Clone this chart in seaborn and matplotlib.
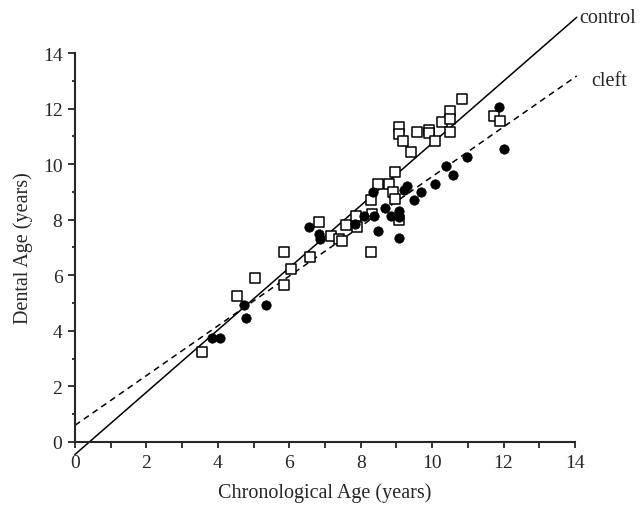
import numpy as np
import pandas as pd
import seaborn as sns
import matplotlib.pyplot as plt
from matplotlib.ticker import MultipleLocator

# control group (open squares)
control_age = [3.55, 4.55, 5.04, 5.85, 5.85, 6.05, 6.57, 6.82, 7.17, 7.40,
               7.47, 7.59, 7.87, 7.89, 8.28, 8.28, 8.33, 8.48, 8.78, 8.96,
               8.90, 8.96, 9.08, 9.08, 9.08, 9.18, 9.40, 9.59, 9.90, 9.90,
               10.08, 10.28, 10.49, 10.49, 10.49, 10.83, 11.72, 11.90]
control_dental = [3.24, 5.24, 5.90, 6.82, 5.65, 6.22, 6.64, 7.91, 7.40, 7.30,
                  7.24, 7.82, 8.12, 7.72, 6.82, 8.72, 8.21, 9.30, 9.30, 9.72,
                  9.00, 8.74, 8.00, 11.34, 11.10, 10.83, 10.42, 11.14, 11.23, 11.12,
                  10.83, 11.53, 11.92, 11.62, 11.14, 12.34, 11.75, 11.56]

# cleft group (filled circles)
cleft_age = [3.85, 4.05, 4.73, 4.79, 5.35, 6.56, 6.82, 6.86, 7.84, 8.08,
             8.34, 8.38, 8.48, 8.68, 8.85, 9.08, 9.08, 9.06, 9.20, 9.29,
             9.48, 9.68, 10.08, 10.39, 10.58, 10.99, 11.88, 12.00]
cleft_dental = [3.73, 3.73, 4.93, 4.45, 4.93, 7.72, 7.50, 7.30, 7.84, 8.12,
                9.00, 8.15, 7.60, 8.42, 8.13, 8.33, 8.09, 7.33, 9.07, 9.23,
                8.72, 9.00, 9.30, 9.92, 9.60, 10.24, 12.04, 10.54]

# regression lines: intercept, slope
control_fit = (-0.45, 1.12)
cleft_fit = (0.60, 0.895)
fit_x = [0, 14.05]

sns.set_style("ticks")
plt.rcParams['font.family'] = ['Liberation Serif', 'DejaVu Serif']

fig = plt.figure(figsize=(6.43, 5.10), dpi=100)
ax = fig.add_axes([0.1166, 0.1314, 0.7776, 0.7627])

sns.scatterplot(x=control_age, y=control_dental, marker="s", s=42,
                facecolor="white", edgecolor="black", linewidth=1.1, ax=ax, zorder=3)
sns.scatterplot(x=cleft_age, y=cleft_dental, marker="o", s=46,
                color="black", edgecolor="black", linewidth=0.5, ax=ax, zorder=3)

xs = np.array(fit_x)
ax.plot(xs, control_fit[0] + control_fit[1] * xs, color="black", lw=1.1, clip_on=False)
ax.plot(xs, cleft_fit[0] + cleft_fit[1] * xs, color="black", lw=1.1,
        dashes=(4, 3), clip_on=False)

ax.text(14.12, control_fit[0] + control_fit[1] * 14.05, "control",
        fontsize=14.5, ha="left", va="center")
ax.text(14.45, 13.0, "cleft", fontsize=14.5, ha="left", va="center")

ax.set_xlim(0, 14)
ax.set_ylim(0, 14)
ax.xaxis.set_major_locator(MultipleLocator(2))
ax.xaxis.set_minor_locator(MultipleLocator(1))
ax.yaxis.set_major_locator(MultipleLocator(2))
ax.yaxis.set_minor_locator(MultipleLocator(1))
ax.tick_params(axis="x", which="both", length=4.5, width=1.3, labelsize=14, pad=4)
ax.tick_params(axis="y", which="major", length=5, width=1.3, labelsize=14, pad=4)
ax.tick_params(axis="y", which="minor", length=2.5, width=1.3)

sns.despine(ax=ax)
for side in ["left", "bottom"]:
    ax.spines[side].set_linewidth(1.5)

ax.set_xlabel("Chronological Age (years)", fontsize=14.5, labelpad=8)
ax.set_ylabel("Dental Age (years)", fontsize=14.5, labelpad=7)

fig.savefig("out.png", dpi=100)
